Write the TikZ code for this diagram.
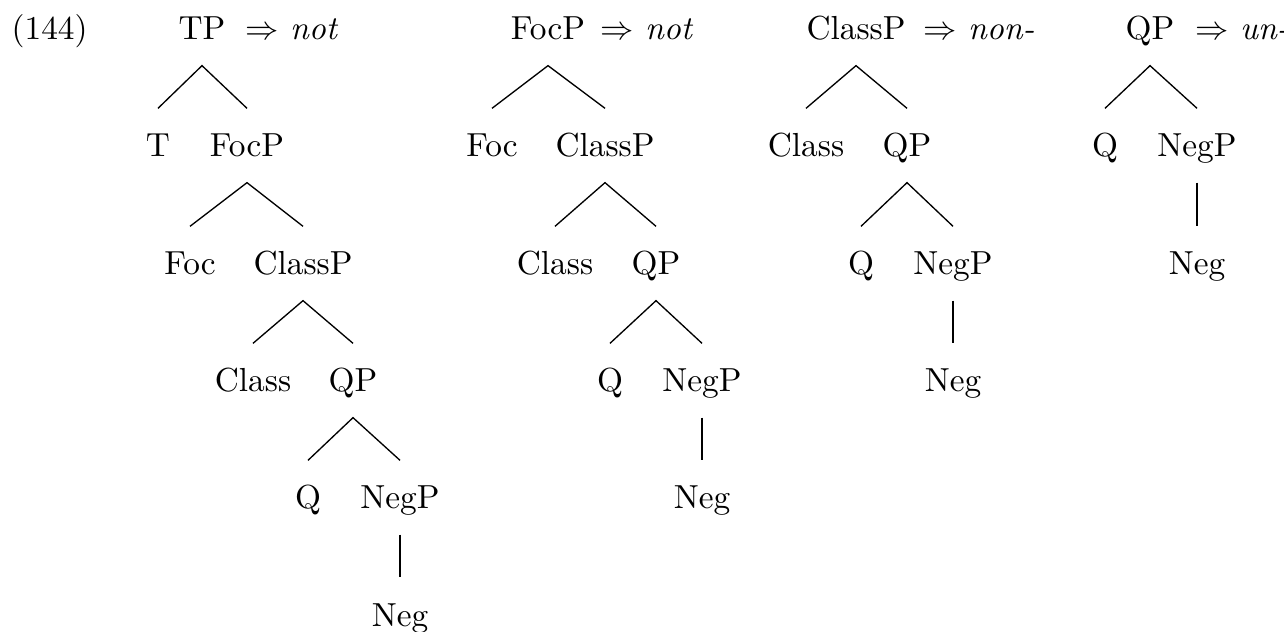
\documentclass[tikz,border=0pt]{standalone}
\begin{document}
\begin{tikzpicture}[x=0.3pt,y=-0.3pt,
  lab/.style={inner xsep=0pt,inner ysep=7.5pt,text height=6.9pt,text depth=0pt,anchor=base},
  note/.style={inner sep=0pt,anchor=base west},
  br/.style={line width=0.4pt}]
\useasboundingbox (0,0) rectangle (1284,632);
% row baselines: 40, 157, 275, 392, 509, 626
\node[note] (ex) at (11,40) {(144)};

% tree 1: TP
\node[lab] (a0) at (202,40) {TP};
\node[note] (a0r) at (245,40) {$\Rightarrow$ \textit{not}};
\node[lab] (a1) at (158,157) {T};
\node[lab] (a2) at (247,157) {FocP};
\node[lab] (a3) at (190,275) {Foc};
\node[lab] (a4) at (303,275) {ClassP};
\node[lab] (a5) at (253,392) {Class};
\node[lab] (a6) at (353,392) {QP};
\node[lab] (a7) at (308,509) {Q};
\node[lab] (a8) at (400,509) {NegP};
\node[lab] (a9) at (400,626) {Neg};
\draw[br] (a1.north) -- (a0.south) -- (a2.north);
\draw[br] (a3.north) -- (a2.south) -- (a4.north);
\draw[br] (a5.north) -- (a4.south) -- (a6.north);
\draw[br] (a7.north) -- (a6.south) -- (a8.north);
\draw[br] (a8.south) -- (a9.north);

% tree 2: FocP
\node[lab] (b0) at (548,40) {FocP};
\node[note] (b0r) at (600,40) {$\Rightarrow$ \textit{not}};
\node[lab] (b1) at (492,157) {Foc};
\node[lab] (b2) at (605,157) {ClassP};
\node[lab] (b3) at (555,275) {Class};
\node[lab] (b4) at (656,275) {QP};
\node[lab] (b5) at (610,392) {Q};
\node[lab] (b6) at (702,392) {NegP};
\node[lab] (b7) at (702,509) {Neg};
\draw[br] (b1.north) -- (b0.south) -- (b2.north);
\draw[br] (b3.north) -- (b2.south) -- (b4.north);
\draw[br] (b5.north) -- (b4.south) -- (b6.north);
\draw[br] (b6.south) -- (b7.north);

% tree 3: ClassP
\node[lab] (c0) at (856,40) {ClassP};
\node[note] (c0r) at (923,40) {$\Rightarrow$ \textit{non-}};
\node[lab] (c1) at (806,157) {Class};
\node[lab] (c2) at (907,157) {QP};
\node[lab] (c3) at (861,275) {Q};
\node[lab] (c4) at (953,275) {NegP};
\node[lab] (c5) at (953,392) {Neg};
\draw[br] (c1.north) -- (c0.south) -- (c2.north);
\draw[br] (c3.north) -- (c2.south) -- (c4.north);
\draw[br] (c4.south) -- (c5.north);

% tree 4: QP
\node[lab] (d0) at (1150,40) {QP};
\node[note] (d0r) at (1195,40) {$\Rightarrow$ \textit{un-}};
\node[lab] (d1) at (1105,157) {Q};
\node[lab] (d2) at (1197,157) {NegP};
\node[lab] (d3) at (1197,275) {Neg};
\draw[br] (d1.north) -- (d0.south) -- (d2.north);
\draw[br] (d2.south) -- (d3.north);
\end{tikzpicture}
\end{document}
